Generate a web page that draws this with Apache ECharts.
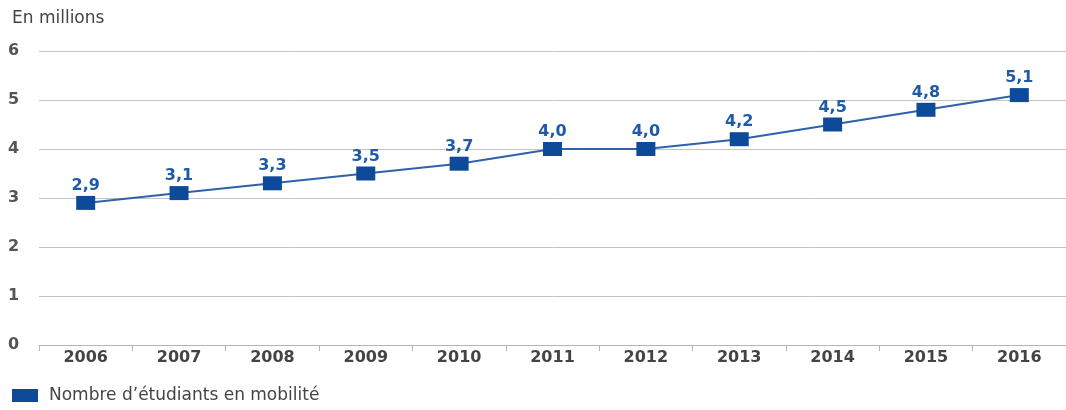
<!DOCTYPE html>
<html>
<head>
<meta charset="utf-8">
<script src="https://cdn.jsdelivr.net/npm/echarts@6/dist/echarts.min.js"></script>
<style>
  html, body { margin: 0; padding: 0; background: #fff; }
  #chart { width: 1066px; height: 410px; }
</style>
</head>
<body>
<div id="chart"></div>
<script>
const years = ["2006", "2007", "2008", "2009", "2010", "2011", "2012", "2013", "2014", "2015", "2016"];
const students = [2.9, 3.1, 3.3, 3.5, 3.7, 4.0, 4.0, 4.2, 4.5, 4.8, 5.1];
const seriesName = "Nombre d\u2019étudiants en mobilité";

let chart = echarts.init(document.getElementById("chart"));
let option = {
  backgroundColor: "#fff",
  textStyle: { fontFamily: "'DejaVu Sans', sans-serif" },
  title: {
    text: "En millions",
    left: 7,
    top: 5,
    textStyle: { fontSize: 17, fontWeight: "normal", color: "#444" },
  },
  legend: {
    data: [seriesName],
    left: 7,
    bottom: 1,
    icon: "rect",
    itemWidth: 26,
    itemHeight: 13,
    itemGap: 10,
    textStyle: { fontSize: 17, color: "#444", padding: [0, 0, 0, 6] },
  },
  grid: {
    left: 39,
    right: -5,
    top: 51,
    bottom: 65,
  },
  xAxis: {
    type: "category",
    data: years,
    boundaryGap: true,
    axisLine: { lineStyle: { color: "#b5b5b5", width: 1 } },
    axisTick: { show: true, length: 6, lineStyle: { color: "#b5b5b5" } },
    axisLabel: { fontSize: 16, color: "#444", fontWeight: "bold", margin: 5 },
  },
  yAxis: {
    type: "value",
    min: 0,
    max: 6,
    interval: 1,
    axisLine: { show: false },
    axisTick: { show: false },
    axisLabel: {
      fontSize: 16,
      color: "#555",
      fontWeight: "bold",
      align: "left",
      margin: 31,
      verticalAlign: "middle",
      padding: [0, 0, 6, 0],
    },
    splitLine: { lineStyle: { color: "#c4c4c4", width: 1 } },
  },
  series: [
    {
      name: seriesName,
      type: "line",
      data: students,
      symbol: "rect",
      symbolSize: [19, 14],
      itemStyle: { color: "#0d4a9a" },
      lineStyle: { color: "#2f62ab", width: 2 },
      label: {
        show: true,
        position: "top",
        distance: 2,
        fontSize: 16,
        fontWeight: "bold",
        color: "#1f5aa8",
        formatter: (p) => p.value.toFixed(1).replace(".", ","),
      },
    },
  ],
};
chart.setOption(option);
</script>
</body>
</html>
